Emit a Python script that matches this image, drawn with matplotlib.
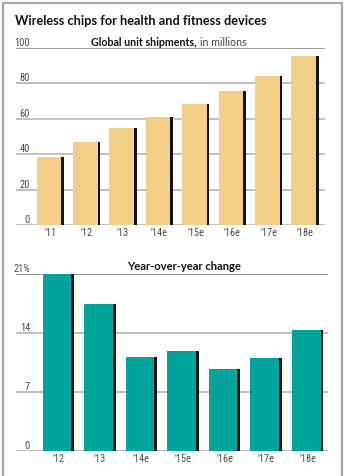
import matplotlib.pyplot as plt
from matplotlib import font_manager
from matplotlib.patches import Rectangle

# global unit shipments, millions
years_units = ["'11", "'12", "'13", "'14e", "'15e", "'16e", "'17e", "'18e"]
units = [38.5, 47, 55, 61, 68.5, 75.5, 84, 95.5]

# year-over-year change, percent
years_yoy = ["'12", "'13", "'14e", "'15e", "'16e", "'17e", "'18e"]
yoy = [21, 17.5, 11.2, 11.9, 9.8, 11.1, 14.4]

units_ticks = [0, 20, 40, 60, 80, 100]
yoy_ticks = [0, 7, 14, 21]
yoy_tick_labels = ["0", "7", "14", "21%"]

W, H = 346, 476
TAN = "#F2CE86"
TEAL = "#00A49A"
GRID = "#AFAFAF"


def pick_font(names):
    for name in names:
        try:
            font_manager.findfont(font_manager.FontProperties(family=name), fallback_to_default=False)
            return name
        except ValueError:
            pass
    return "DejaVu Sans"


NARROW = pick_font(["Liberation Sans Narrow", "DejaVu Sans Condensed", "Roboto Condensed"])

fig = plt.figure(figsize=(W / 100, H / 100), dpi=100)
fig.patch.set_facecolor("white")


def px_axes(x0, x1, ytop, ybot):
    return fig.add_axes([x0 / W, (H - ybot) / H, (x1 - x0) / W, (ybot - ytop) / H])


def bar_panel(ax, labels, values, color, ticks, tick_labels, xl, yl, width, label_x):
    n = len(values)
    x = list(range(n))
    ax.set_xlim(*xl)
    ax.set_ylim(*yl)
    for t in ticks:
        ax.axhline(t, color=GRID, lw=1.1, zorder=0)
    ax.axhline(ticks[-1], color="#9A9A9A", lw=1.4, zorder=0)
    # black edge on the right of each bar
    ax.bar(x, values, width=width, color="#111111", zorder=2)
    ax.bar([i - 0.035 for i in x], values, width=width - 0.07, color=color, zorder=3)
    for t, s in zip(ticks, tick_labels):
        ax.text(label_x, t, s, transform=ax.get_yaxis_transform(), ha="right", va="bottom",
                fontsize=7.5, family=NARROW, color="#4A4A4A")
    for i, s in zip(x, labels):
        ax.text(i, -0.015, s, transform=ax.get_xaxis_transform(), ha="center", va="top",
                fontsize=7.5, family=NARROW, color="#4A4A4A")
    ax.axis("off")


# top panel: shipments
ax1 = px_axes(16, 325, 48, 225)
bar_panel(ax1, years_units, units, TAN, units_ticks, [str(t) for t in units_ticks],
          (-0.94, 7.55), (0, 100), 0.75, 0.045)

# bottom panel: yoy change
ax2 = px_axes(16, 328, 274.3, 451.3)
bar_panel(ax2, years_yoy, yoy, TEAL, yoy_ticks, yoy_tick_labels,
          (-1.02, 6.49), (0, 21), 0.76, 0.045)

fig.text(15 / W, 1 - 21 / H, "Wireless chips for health and fitness devices",
         fontsize=9.2, family="Lato", weight="bold", color="#111111", ha="left", va="center")
fig.text(197 / W, 1 - 42 / H, "Global unit shipments,", fontsize=7.7, family="Lato",
         weight="bold", color="#111111", ha="right", va="center")
fig.text(200 / W, 1 - 42 / H, "in millions", fontsize=7.7, family="Lato",
         color="#444444", ha="left", va="center")
fig.text(184 / W, 1 - 267 / H, "Year-over-year change", fontsize=8.1, family="Lato",
         weight="bold", color="#111111", ha="center", va="center")

# outer frame
fig.patches.append(Rectangle((2.5 / W, -0.05), 339.5 / W, 1.05 - 2.5 / H, transform=fig.transFigure,
                             fill=False, edgecolor="#A8A8A8", lw=1.6))

fig.savefig("out.png", dpi=100)
